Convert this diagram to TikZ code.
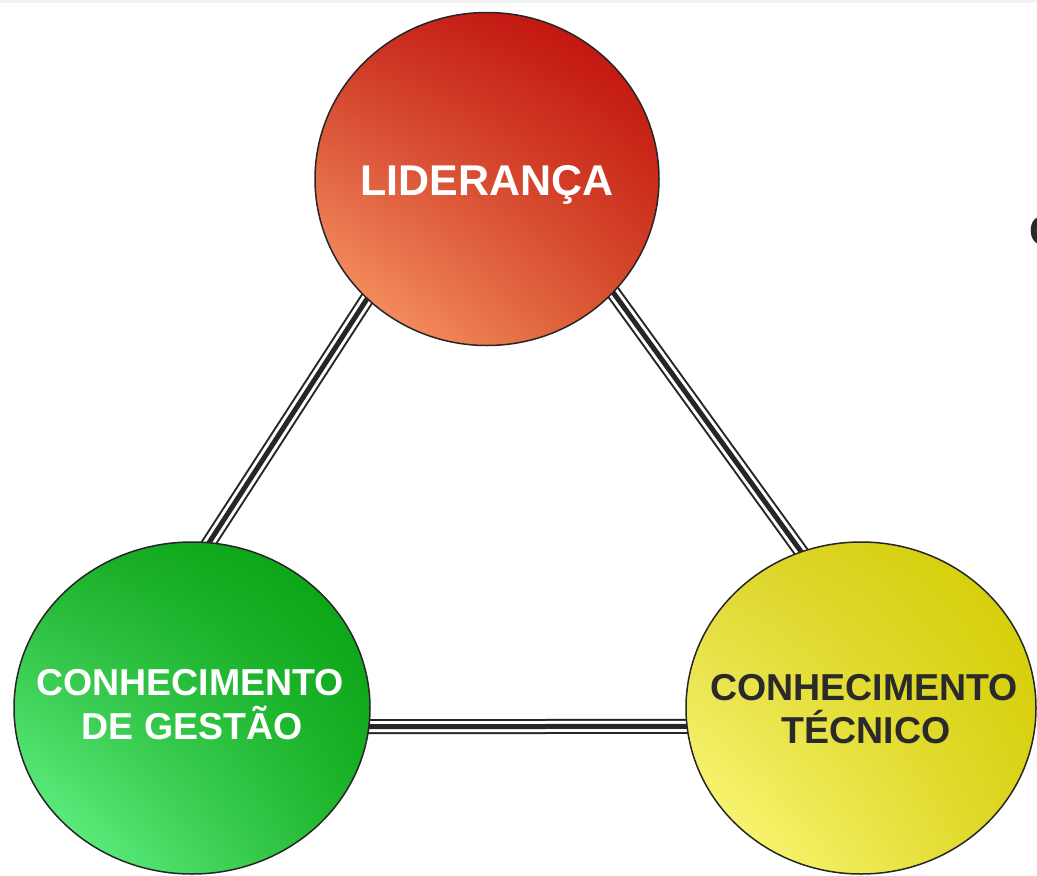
\documentclass[tikz,border=0pt]{standalone}
\usepackage{fontspec}
\setmainfont{Liberation Sans}
\usetikzlibrary{shapes.geometric,shadings,calc,backgrounds}
\definecolor{dk}{HTML}{262626}
\definecolor{txtdk}{HTML}{2A2A2A}
\tikzset{
  bubble/.style={ellipse, draw=dk, line width=1.5pt, inner sep=0pt},
  redfill/.style={upper left={rgb,255:red,202;green,48;blue,32}, upper right={rgb,255:red,190;green,8;blue,8},
    lower left={rgb,255:red,255;green,168;blue,112}, lower right={rgb,255:red,214;green,78;blue,44}},
  greenfill/.style={upper left={rgb,255:red,30;green,176;blue,44}, upper right={rgb,255:red,4;green,160;blue,14},
    lower left={rgb,255:red,112;green,255;blue,152}, lower right={rgb,255:red,30;green,180;blue,44}},
  yellowfill/.style={upper left={rgb,255:red,222;green,214;blue,50}, upper right={rgb,255:red,212;green,204;blue,0},
    lower left={rgb,255:red,255;green,255;blue,136}, lower right={rgb,255:red,220;green,212;blue,30}},
  triple/.style={draw=dk, line width=2pt, double=white, double distance=11pt,
    postaction={draw=dk, line width=5pt}},
  bigtxt/.style={font=\fontsize{43}{43}\selectfont\bfseries, inner sep=0pt, anchor=base},
  midtxt/.style={font=\fontsize{37.5}{37.5}\selectfont\bfseries, inner sep=0pt, anchor=base},
}
\begin{document}
\begin{tikzpicture}[x=1pt,y=-1pt]
\useasboundingbox (0,0) rectangle (1037,876);
% circles
\node[bubble, redfill, minimum width=344pt, minimum height=333pt] (red) at (487,179) {};
\node[bubble, greenfill, minimum width=356pt, minimum height=332pt] (green) at (192,708) {};
\node[bubble, yellowfill, minimum width=350pt, minimum height=332pt] (yellow) at (861,708) {};
% background and connectors
\begin{pgfonlayer}{background}
\fill[white] (0,0) rectangle (1037,876);
\fill[gray!10] (0,0) rectangle (1037,3);
\draw[triple] ($(red.225.5)!-8pt!(green.84)$) -- ($(green.84)!-8pt!(red.225.5)$);
\draw[triple] ($(red.318)!-8pt!(yellow.111.5)$) -- ($(yellow.111.5)!-8pt!(red.318)$);
\draw[triple] ($(green.-6)!-8pt!(yellow.186)$) -- ($(yellow.186)!-8pt!(green.-6)$);
\end{pgfonlayer}
% labels
\node[bigtxt, text=white] (tlid) at (487,195) {LIDERANÇA};
\node[midtxt, text=white] (tg1) at (190,695) {CONHECIMENTO};
\node[midtxt, text=white] (tg2) at (192,739) {DE GESTÃO};
\node[midtxt, text=txtdk] (ty1) at (864,700) {CONHECIMENTO};
\node[midtxt, text=txtdk] (ty2) at (866,743) {TÉCNICO};
\node[font=\fontsize{42}{42}\selectfont\bfseries, inner sep=0pt, anchor=base west, text=txtdk] (cut) at (1029,245) {C};
\end{tikzpicture}
\end{document}
